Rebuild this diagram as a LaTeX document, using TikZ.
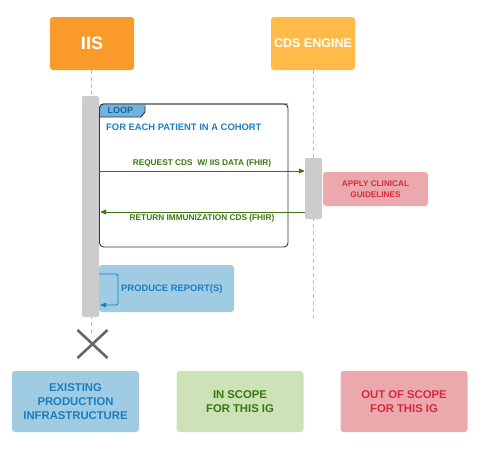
\documentclass[tikz,border=0pt]{standalone}
\usepackage{fontspec}
\setmainfont{Liberation Sans}
\usetikzlibrary{arrows.meta}
\definecolor{iisor}{HTML}{F99A2B}
\definecolor{cdsor}{HTML}{FFBA47}
\definecolor{actgray}{HTML}{CCCCCC}
\definecolor{lifegray}{HTML}{BBBBBB}
\definecolor{bluetxt}{HTML}{1A7EC0}
\definecolor{bluebox}{HTML}{9FCBE3}
\definecolor{tabblue}{HTML}{72B3DC}
\definecolor{greentxt}{HTML}{3C7512}
\definecolor{greenbox}{HTML}{CDE3B7}
\definecolor{redtxt}{HTML}{D62A3C}
\definecolor{redbox}{HTML}{EBA9AE}
\definecolor{xgray}{HTML}{666666}
\tikzset{
  actor/.style={rectangle, rounded corners=3pt, minimum width=84pt, minimum height=53pt, text=white, font=\bfseries, inner sep=0pt},
  actbar/.style={rectangle, rounded corners=2pt, fill=actgray, minimum width=17pt, inner sep=0pt},
  lifeline/.style={lifegray, dash pattern=on 4pt off 3pt, line width=0.8pt},
  msg/.style={greentxt, line width=0.9pt, -{Triangle[length=6pt,width=5pt]}},
  msglabel/.style={text=greentxt, font=\bfseries\fontsize{8.3}{10}\selectfont, inner sep=0pt},
  legend/.style={rectangle, rounded corners=3pt, minimum width=127pt, minimum height=61pt, inner sep=0pt, align=center, font=\bfseries\fontsize{11.3}{14}\selectfont},
}
\begin{document}
\begin{tikzpicture}[x=1pt,y=-1pt]
\useasboundingbox (0,0) rectangle (480,448);
% actors
\node[actor, fill=iisor, font=\bfseries\fontsize{18}{20}\selectfont] (iis) at (92,43.5) {IIS};
\node[actor, fill=cdsor, font=\bfseries\fontsize{12.5}{14}\selectfont] (cds) at (313,43.5) {CDS ENGINE};
% lifelines
\coordinate (iisend) at (91,335);
\coordinate (cdsend) at (313,318);
\draw[lifeline] (iis.south -| iisend) -- (iisend);
\draw[lifeline] (cds.south) -- (cdsend);
% produce report box
\node[rectangle, rounded corners=3pt, fill=bluebox, minimum width=135pt, minimum height=47pt, inner sep=0pt] (rep) at (166.5,288.5) {};
% activation bars
\node[actbar, minimum height=221pt] (iisact) at (90.5,206.5) {};
\node[actbar, minimum height=61pt] (cdsact) at (313.5,188.5) {};
% loop frame
\draw[line width=0.9pt, draw=black!80, rounded corners=4pt] (99.5,104) rectangle (288,247);
\fill[tabblue, rounded corners=3.5pt] (99.5,117) -- (99.5,104) -- (145,104) [sharp corners] -- (145,112) -- (141,117) -- cycle;
\draw[line width=0.9pt, draw=black!80] (99.5,117) -- (141,117) -- (145,112) -- (145,104.5);
\draw[line width=0.9pt, draw=black!80, rounded corners=4pt] (99.5,130) -- (99.5,104) -- (288,104);
\node[anchor=west, inner sep=0pt, text=bluetxt!80!black, font=\bfseries\fontsize{9}{10}\selectfont] (loop) at (107.5,110.5) {LOOP};
\node[anchor=west, inner sep=0pt, text=bluetxt, font=\bfseries\fontsize{9.4}{11}\selectfont] (each) at (106,127) {FOR EACH PATIENT IN A COHORT};
% messages
\draw[msg] (iisact.east |- 0,171) -- (cdsact.west |- 0,171);
\node[msglabel] (reqlab) at (202,163) {REQUEST CDS\ \ W/ IIS DATA (FHIR)};
\draw[msg] (cdsact.west |- 0,212) -- ([xshift=1pt]iisact.east |- 0,212);
\node[msglabel] (retlab) at (202,218.5) {RETURN IMMUNIZATION CDS (FHIR)};
% apply clinical guidelines
\node[rectangle, rounded corners=3pt, fill=redbox, minimum width=105pt, minimum height=34pt, inner sep=0pt, align=center, text=redtxt, font=\bfseries\fontsize{8.2}{10.5}\selectfont] (apply) at (375.5,189) {APPLY CLINICAL\\GUIDELINES};
% self message
\coordinate (s1) at (99,274);
\coordinate (s2) at (118,274);
\coordinate (s3) at (118,305);
\coordinate (s4) at (100,305);
\draw[bluetxt, line width=0.8pt, rounded corners=1.5pt, -{Triangle[length=6pt,width=4.5pt]}] (s1) -- (s2) -- (s3) -- (s4);
\node[anchor=west, inner sep=0pt, text=bluetxt, font=\bfseries\fontsize{9.4}{11}\selectfont] (replab) at (121,289) {PRODUCE REPORT(S)};
% destroy mark
\coordinate (xc) at (92.5,344);
\draw[xgray, line width=2.6pt] ([shift={(-15,-14)}]xc) -- ([shift={(15,14)}]xc);
\draw[xgray, line width=2.6pt] ([shift={(-15,14)}]xc) -- ([shift={(15,-14)}]xc);
% legend
\node[legend, fill=bluebox, text=bluetxt] (lg1) at (75.5,401.5) {EXISTING\\PRODUCTION\\INFRASTRUCTURE};
\node[legend, fill=greenbox, text=greentxt] (lg2) at (240,401.5) {IN SCOPE\\FOR THIS IG};
\node[legend, fill=redbox, text=redtxt] (lg3) at (404,401.5) {OUT OF SCOPE\\FOR THIS IG};
\end{tikzpicture}
\end{document}
